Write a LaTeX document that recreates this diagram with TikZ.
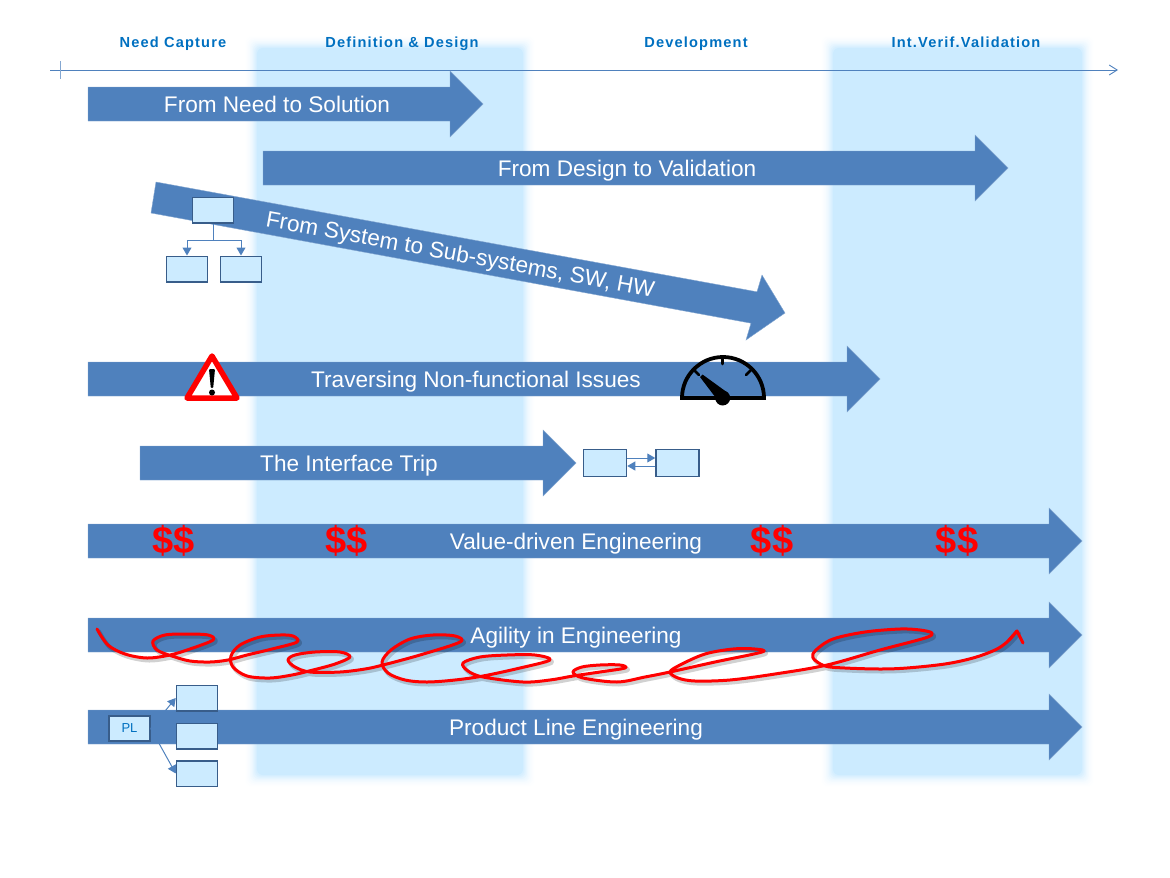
\documentclass[tikz,border=0pt]{standalone}
\usepackage{fontspec}
\setmainfont{Liberation Sans}
\newfontfamily\headfont[LetterSpace=8]{Liberation Sans}
\usetikzlibrary{arrows.meta}
\definecolor{bandblue}{HTML}{CCEBFF}
\definecolor{arrowblue}{HTML}{4F81BD}
\definecolor{edgeblue}{HTML}{385D8A}
\definecolor{headblue}{HTML}{0070C0}
\tikzset{
  x=1pt,y=-1pt,
  arrowbody/.style={fill=arrowblue,draw=arrowblue!70!white,line width=0.4pt},
  arrowlabel/.style={text=white,font=\fontsize{22.6}{25}\selectfont,inner sep=0pt},
  headlabel/.style={text=headblue,font=\headfont\bfseries\fontsize{14.6}{16}\selectfont,inner sep=0pt,anchor=base},
  smallbox/.style={draw=edgeblue,fill=bandblue,line width=1.5pt,minimum width=41pt,minimum height=25.5pt,inner sep=0pt},
  link/.style={draw=arrowblue,line width=1pt},
  linkarrow/.style={link,-{Triangle[length=8pt,width=9pt]}},
  money/.style={text=red,font=\bfseries\fontsize{38}{40}\selectfont,inner sep=0pt},
  scribble/.style={draw=red,line width=3pt,line cap=round,line join=round},
  scribbleshade/.style={draw=black,opacity=0.18,line width=4pt,line cap=round,line join=round},
}
% band with soft edges
\newcommand{\softband}[4]{%
  \foreach \i in {0,...,9}{%
    \pgfmathsetmacro{\pad}{12-1.33*\i}%
    \pgfmathsetmacro{\mix}{(\i+1)*(\i+1)}%
    \fill[bandblue!\mix!white,rounded corners=6pt] (#1-\pad,#2-\pad) rectangle (#3+\pad,#4+\pad);%
  }}
% horizontal arrow: name, x start, y centre, x tip, label, label x
\newcommand{\bigarrow}[6]{%
  \path[arrowbody] (#2,#3-17) -- (#4-33,#3-17) -- (#4-33,#3-33) -- (#4,#3) -- (#4-33,#3+33) -- (#4-33,#3+17) -- (#2,#3+17) -- cycle;%
  \node[arrowlabel,anchor=base] (#1) at (#6,#3+8.5) {#5};}
\newcommand{\scribblepts}{
 (97,629) (108,645) (125,654) (147,658) (170,655) (190,649) (213,640) (208,635) (187,634) (165,635) (153,641) (157,650) (172,656) (190,661) (210,662) (228,660) (247,655) (272,649) (297,642) (293,636) (280,635) (260,637) (240,645) (231,656) (233,667) (247,676) (270,678) (292,675) (313,670) (335,664) (350,657) (340,652) (315,652) (295,655) (288,660) (295,667) (310,672) (340,672) (365,669) (383,665) (420,655) (460,642) (455,636) (433,635) (410,639) (391,650) (382,662) (388,673) (405,680) (427,682) (455,680) (483,676) (520,668) (550,660) (535,655) (507,655) (480,657) (463,663) (468,671) (483,677) (523,682) (550,680) (573,676) (600,672) (625,668) (620,665) (600,665) (582,667) (573,672) (583,678) (617,682) (645,677) (670,672) (715,662) (762,652) (755,649) (733,649) (705,654) (680,665) (670,672) (678,678) (695,681) (730,680) (775,674) (827,665) (880,650) (925,638) (932,633) (920,630) (900,629) (865,632) (833,639) (816,650) (813,658) (825,666) (845,668) (880,669) (907,668) (945,664) (973,658) (995,650) (1007,642) (1017,631)}
\begin{document}
\begin{tikzpicture}
\useasboundingbox (0,0) rectangle (1170,878);
\softband{257}{48}{523}{775}
\softband{833}{48}{1082}{775}

\node[headlabel] (h1) at (173,47) {Need Capture};
\node[headlabel] (h2) at (402,47) {Definition \& Design};
\node[headlabel] (h3) at (696,47) {Development};
\node[headlabel] (h4) at (966,47) {Int.Verif.Validation};

\coordinate (axs) at (50,70);
\coordinate (axe) at (1118,70);
\draw[arrowblue,line width=0.9pt,-{Straight Barb[length=8pt,width=10pt]}] (axs) -- (axe);
\coordinate (tickt) at (60,61);
\coordinate (tickb) at (60,79);
\draw[arrowblue!70!white,line width=0.9pt] (tickt) -- (tickb);

\bigarrow{a1}{88}{104}{483}{From Need to Solution}{277}
\bigarrow{a2}{263}{168}{1008}{From Design to Validation}{627}
\path[arrowbody] (156,182) -- (757,291.8) -- (762,275) -- (785,313) -- (746,340) -- (751,323.2) -- (151,213) -- cycle;
\node[arrowlabel,rotate=-10.37] (a3) at (460,256) {From System to Sub-systems, SW, HW};
\bigarrow{a4}{88}{379}{880}{Traversing Non-functional Issues}{476}
\bigarrow{a5}{140}{463}{576}{The Interface Trip}{349}
\bigarrow{a6}{88}{541}{1082}{Value-driven Engineering}{576}
\bigarrow{a7}{88}{635}{1082}{Agility in Engineering}{576}
\bigarrow{a8}{88}{727}{1082}{Product Line Engineering}{576}

% hierarchy
\node[smallbox] (top) at (213,210) {};
\node[smallbox] (subl) at (187,269) {};
\node[smallbox] (subr) at (241,269) {};
\coordinate (fork) at (213,240);
\draw[link] (top.south) -- (fork);
\draw[linkarrow] (fork) -| (subl.north);
\draw[linkarrow] (fork) -| (subr.north);

% warning sign
\path[draw=red,fill=white,line width=5.5pt,line join=round] (212,356) -- (237,398) -- (187,398) -- cycle;
\fill[black,rounded corners=1pt] (209,369) -- (215,369) -- (213.2,388) -- (210.8,388) -- cycle;
\fill[black] (212,392.5) circle (3);

% gauge
\draw[black,line width=3.8pt,line cap=round] (682,398) arc[start angle=180,end angle=0,x radius=41,y radius=-41] -- cycle;
\draw[black,line width=2.8pt,line cap=round] (722.5,358) -- (722.5,364);
\draw[black,line width=2.8pt,line cap=round] (694.5,370.5) -- (699,375);
\draw[black,line width=2.8pt,line cap=round] (750.5,370.5) -- (746,375);
\fill[black] (700,377) -- (702.5,374.5) -- (728,393) -- (719,402) -- cycle;
\fill[black] (722.7,398) circle (7.5);

% interface pair
\node[smallbox,minimum width=43pt,minimum height=27pt] (ifl) at (605,463) {};
\node[smallbox,minimum width=43pt,minimum height=27pt] (ifr) at (677.5,463) {};
\draw[linkarrow] ([yshift=5pt]ifl.east) -- ([yshift=5pt]ifr.west);
\draw[linkarrow] ([yshift=-3pt]ifr.west) -- ([yshift=-3pt]ifl.east);

% money
\node[money] (m1) at (174,541) {\$\$};
\node[money] (m2) at (347,541) {\$\$};
\node[money] (m3) at (772,541) {\$\$};
\node[money] (m4) at (957,541) {\$\$};

% scribble
\begin{scope}[shift={(2,2.5)}]
\draw[scribbleshade] plot[smooth,tension=0.55] coordinates {\scribblepts};
\end{scope}
\draw[scribble] plot[smooth,tension=0.55] coordinates {\scribblepts};
\coordinate (sct) at (1017,631);
\coordinate (scb) at (1023,643);
\coordinate (scl) at (1009,640);
\draw[scribble] (scl) -- (sct) -- (scb);

% product line
\node[smallbox,fill=bandblue,minimum width=41pt,minimum height=25pt,text=headblue,font=\fontsize{13}{15}\selectfont] (pl) at (129.5,728.5) {PL};
\node[smallbox] (p1) at (197,698) {};
\node[smallbox] (p2) at (197,736) {};
\node[smallbox] (p3) at (197,773.5) {};
\draw[linkarrow] (pl.east) -- (p1.west);
\draw[linkarrow] (pl.east) -- (p2.west);
\draw[linkarrow] (pl.east) -- (p3.west);
\end{tikzpicture}
\end{document}
